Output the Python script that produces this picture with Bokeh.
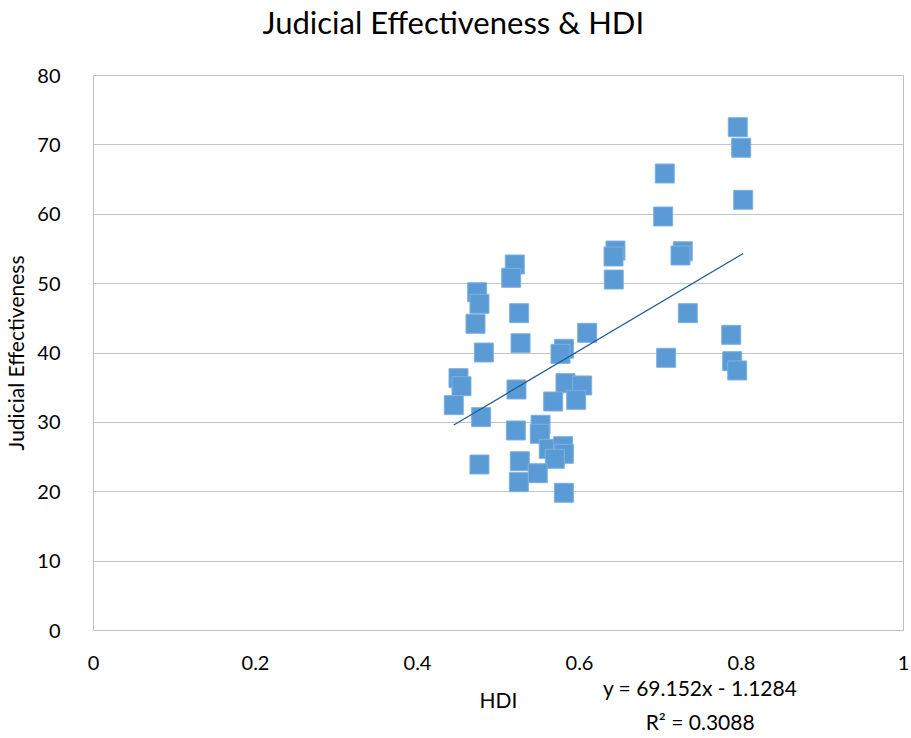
from bokeh.plotting import figure
from bokeh.models import FixedTicker, LinearAxis, ColumnDataSource, Title
from bokeh.embed import file_html
from bokeh.resources import INLINE

# Data (HDI, Judicial Effectiveness)
hdi = [0.7954, 0.7996, 0.8021, 0.7053, 0.7033, 0.7275, 0.7247, 0.6444, 0.6420, 0.6423,
       0.7337, 0.7873, 0.7070, 0.7885, 0.7947, 0.6095, 0.5201, 0.5157, 0.4737, 0.4765,
       0.4716, 0.5255, 0.5272, 0.4819, 0.5807, 0.5765, 0.4506, 0.4543, 0.4448, 0.5222,
       0.5827, 0.6033, 0.5675, 0.5959, 0.4786, 0.5214, 0.5519, 0.5510, 0.5620, 0.5798,
       0.5807, 0.5695, 0.4765, 0.5263, 0.5485, 0.5251, 0.5807]
judicial = [72.55, 69.58, 62.08, 65.87, 59.68, 54.67, 54.05, 54.77, 53.91, 50.59,
            45.74, 42.62, 39.31, 38.82, 37.48, 42.91, 52.76, 50.84, 48.76, 47.09,
            44.21, 45.74, 41.41, 40.07, 40.61, 39.88, 36.37, 35.21, 32.48, 34.74,
            35.65, 35.32, 33.01, 33.25, 30.75, 28.83, 29.65, 28.35, 26.19, 26.57,
            25.47, 24.75, 23.93, 24.40, 22.67, 21.38, 19.85]

trend_slope = 69.152
trend_intercept = -1.1284
equation_text = "y = 69.152x - 1.1284"
r2_text = "R\u00b2 = 0.3088"
equation_pos = 0.749  # HDI position under which the trendline equation is centred

x_ticks = [0, 0.2, 0.4, 0.6, 0.8, 1]
x_tick_labels = ["0", "0.2", "0.4", "0.6", "0.8", "1"]
y_ticks = [0, 10, 20, 30, 40, 50, 60, 70, 80]

FONT = "Lato"

p = figure(width=911, height=738, x_range=(0, 1), y_range=(0, 80),
           output_backend="svg", toolbar_location=None,
           min_border_left=93, min_border_right=8, min_border_top=75, min_border_bottom=108,
           title="Judicial Effectiveness & HDI")

p.title.text_font = FONT
p.title.text_font_size = "31px"
p.title.text_font_style = "normal"
p.title.align = "left"
p.title.offset = 169
p.title.standoff = 0
p.title.text_color = "#000000"

# blank spacer between the title and the plot frame
p.add_layout(Title(text=" ", text_font_size="10px", standoff=22), "above")

p.outline_line_color = "#BFBFBF"
p.outline_line_width = 1


def style_axis(ax, label_size="20px"):
    ax.axis_line_color = None
    ax.major_tick_line_color = None
    ax.minor_tick_line_color = None
    ax.major_label_text_font = FONT
    ax.major_label_text_font_size = label_size
    ax.major_label_text_color = "#000000"
    ax.axis_label_text_font = FONT
    ax.axis_label_text_font_size = "21px"
    ax.axis_label_text_font_style = "normal"
    ax.axis_label_text_color = "#000000"


style_axis(p.xaxis[0])
style_axis(p.yaxis[0])

p.xaxis.ticker = FixedTicker(ticks=x_ticks)
p.xaxis.major_label_overrides = {t: l for t, l in zip(x_ticks, x_tick_labels)}
p.xaxis.major_label_standoff = 19
p.yaxis.ticker = FixedTicker(ticks=y_ticks)
p.yaxis.axis_label = "Judicial Effectiveness"
p.yaxis.major_label_standoff = 27
p.yaxis.axis_label_standoff = 6

# trendline equation + HDI axis title, carried by extra bottom axes
eq_axis = LinearAxis(ticker=FixedTicker(ticks=[equation_pos]),
                     major_label_overrides={equation_pos: equation_text},
                     axis_label="HDI")
style_axis(eq_axis, "21px")
eq_axis.major_label_standoff = -4
eq_axis.axis_label_standoff = -16
p.add_layout(eq_axis, "below")

r2_axis = LinearAxis(ticker=FixedTicker(ticks=[equation_pos]),
                     major_label_overrides={equation_pos: r2_text})
style_axis(r2_axis, "21px")
r2_axis.major_label_standoff = -12
p.add_layout(r2_axis, "below")

p.xgrid.grid_line_color = None
p.ygrid.grid_line_color = "#C4C4C4"
p.ygrid.grid_line_width = 1

src = ColumnDataSource(dict(x=hdi, y=judicial))
p.scatter("x", "y", source=src, marker="square", size=19,
          fill_color="#5B9BD5", line_color="#7FB0DE", line_width=1)

xmin, xmax = min(hdi), max(hdi)
p.line([xmin, xmax], [trend_slope * xmin + trend_intercept, trend_slope * xmax + trend_intercept],
       line_color="#1F5C99", line_width=1.3)

open("out.html", "w").write(file_html(p, INLINE))
